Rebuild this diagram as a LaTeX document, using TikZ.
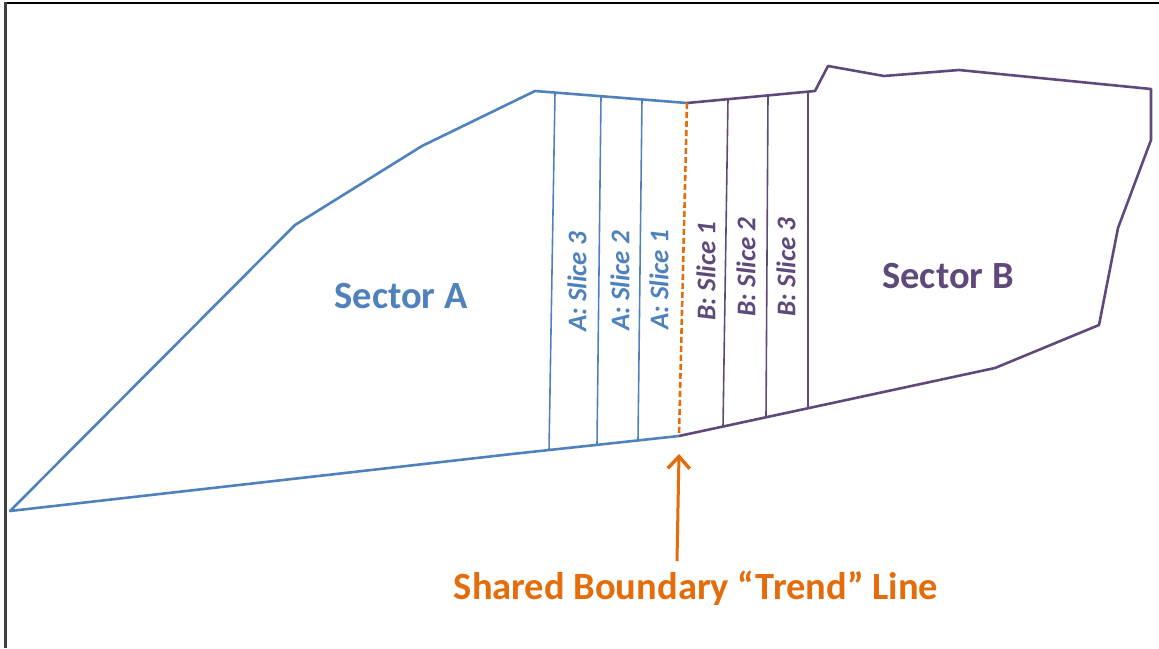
\documentclass[tikz,border=0pt]{standalone}
\usepackage{fontspec}
\setmainfont{Carlito}
\usetikzlibrary{arrows.meta}
\definecolor{secA}{HTML}{4F81BD}
\definecolor{secB}{HTML}{5F497A}
\definecolor{trend}{HTML}{E46C0A}
\tikzset{
  outlineA/.style={draw=secA, line width=2.6pt, line join=round},
  outlineB/.style={draw=secB, line width=2.6pt, line join=round},
  sliceA/.style={draw=secA, line width=1.6pt},
  sliceB/.style={draw=secB, line width=1.6pt},
  sectorlbl/.style={font=\fontsize{38.5}{42}\selectfont\bfseries, inner sep=0pt},
  slicelbl/.style={font=\fontsize{27}{30}\selectfont\bfseries\itshape, rotate=90, inner sep=0pt},
  trendline/.style={draw=trend, line width=2.6pt, dash pattern=on 6pt off 3pt},
  trendarrow/.style={draw=trend, line width=3pt, -{Straight Barb[length=12pt,width=22pt,line width=3.4pt]}}
}
\begin{document}
\begin{tikzpicture}[x=1pt,y=-1pt]
\useasboundingbox (0,0) rectangle (1159,648);
% frame
\draw[line width=2.6pt, black] (4,3) -- (1159,3);
\draw[line width=2.6pt, black!75] (5.3,2) -- (5.3,648);

% key points
\coordinate (tl) at (687,103);
\coordinate (bl) at (679,436);

% Sector A outline
\draw[outlineA] (bl) -- (512,454) -- (10,511) -- (295,225) -- (422,146) -- (535,91) -- (tl);
% Sector B outline
\draw[outlineB] (tl) -- (815,91) -- (828,66) -- (884,76) -- (959,70) -- (1151,89) -- (1151,140)
  -- (1118,228) -- (1099,325) -- (995,368) -- (bl);

% A slice lines
\draw[sliceA] (555,92.6) -- (549,450.6);
\draw[sliceA] (601,96.2) -- (597,445.2);
\draw[sliceA] (642,99.4) -- (638,440.6);
% B slice lines
\draw[sliceB] (728,99.2) -- (723,426.5);
\draw[sliceB] (768,95.4) -- (766,417.3);
\draw[sliceB] (808,91.7) -- (808,408.3);

% shared boundary
\draw[trendline] (tl) -- (bl);

% labels
\node[sectorlbl, text=secA] (sa) at (401,296) {Sector A};
\node[sectorlbl, text=secB] (sb) at (948,276) {Sector B};

\node[slicelbl, text=secA] (a3) at (577,282) {A: Slice 3};
\node[slicelbl, text=secA] (a2) at (620,281) {A: Slice 2};
\node[slicelbl, text=secA] (a1) at (659,280) {A: Slice 1};
\node[slicelbl, text=secB] (b1) at (706,271) {B: Slice 1};
\node[slicelbl, text=secB] (b2) at (746,267) {B: Slice 2};
\node[slicelbl, text=secB] (b3) at (786,267) {B: Slice 3};

\node[sectorlbl, text=trend] (tr) at (696,588) {Shared Boundary “Trend” Line};
\coordinate (tail) at (677,561);
\coordinate (tip) at (679,454);
\draw[trendarrow] (tail) -- (tip);
\end{tikzpicture}
\end{document}
